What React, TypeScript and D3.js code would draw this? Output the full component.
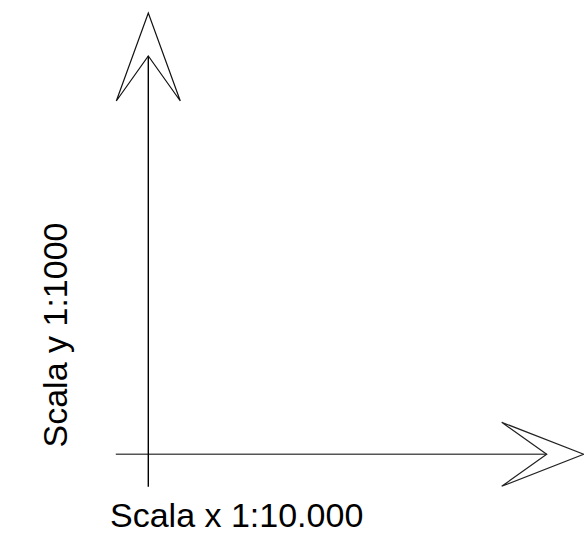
import React from "react";
import * as d3 from "d3";

// axis labels
const xLabel = "Scala x 1:10.000";
const yLabel = "Scala y 1:1000";

// axis domains (scale ratios)
const xDomain = [0, 10000];
const yDomain = [0, 1000];

// arrowhead shape: [along axis, across axis] relative to axis end, in px
const upHead: [number, number][] = [
  [-32, 45],
  [0, -43],
  [32, 45],
  [0, 0],
];
const rightHead: [number, number][] = [
  [-45, -32],
  [37, 0],
  [-45, 32],
  [0, 0],
];

const W = 584;
const H = 542;

const App: React.FC = () => {
  const ref = React.useRef<SVGSVGElement>(null);

  React.useEffect(() => {
    const svg = d3.select(ref.current);
    svg.selectAll("*").remove();

    const x = d3.scaleLinear().domain(xDomain).range([148.3, 546.7]);
    const y = d3.scaleLinear().domain(yDomain).range([454.3, 56]);
    const overhang = 32.5;

    const g = svg.append("g");

    // horizontal axis
    g.append("line")
      .attr("x1", x(xDomain[0]) - overhang)
      .attr("x2", x(xDomain[1]))
      .attr("y1", y(0))
      .attr("y2", y(0))
      .attr("stroke", "#555")
      .attr("stroke-width", 1.4);

    // vertical axis
    g.append("line")
      .attr("x1", x(0))
      .attr("x2", x(0))
      .attr("y1", y(yDomain[0]) + overhang)
      .attr("y2", y(yDomain[1]))
      .attr("stroke", "#000")
      .attr("stroke-width", 1.4);

    const line = d3.line();

    g.append("path")
      .attr(
        "d",
        line(upHead.map(([a, b]) => [x(0) + a, y(yDomain[1]) + b])) + "Z"
      )
      .attr("fill", "none")
      .attr("stroke", "#111")
      .attr("stroke-width", 1.2)
      .attr("stroke-linejoin", "miter");

    g.append("path")
      .attr(
        "d",
        line(rightHead.map(([a, b]) => [x(xDomain[1]) + a, y(0) + b])) + "Z"
      )
      .attr("fill", "none")
      .attr("stroke", "#222")
      .attr("stroke-width", 1.2);

    // labels
    g.append("text")
      .attr("x", 110)
      .attr("y", 527)
      .attr("font-family", "Liberation Sans, Arial, sans-serif")
      .attr("font-size", 34)
      .attr("fill", "#000")
      .text(xLabel);

    g.append("text")
      .attr("transform", `translate(67,335) rotate(-90)`)
      .attr("text-anchor", "middle")
      .attr("font-family", "Liberation Sans, Arial, sans-serif")
      .attr("font-size", 34)
      .attr("fill", "#000")
      .text(yLabel);
  }, []);

  return (
    <svg
      ref={ref}
      width={W}
      height={H}
      style={{ position: "absolute", left: 0, top: 0, background: "#fff" }}
    />
  );
};

export default App;
